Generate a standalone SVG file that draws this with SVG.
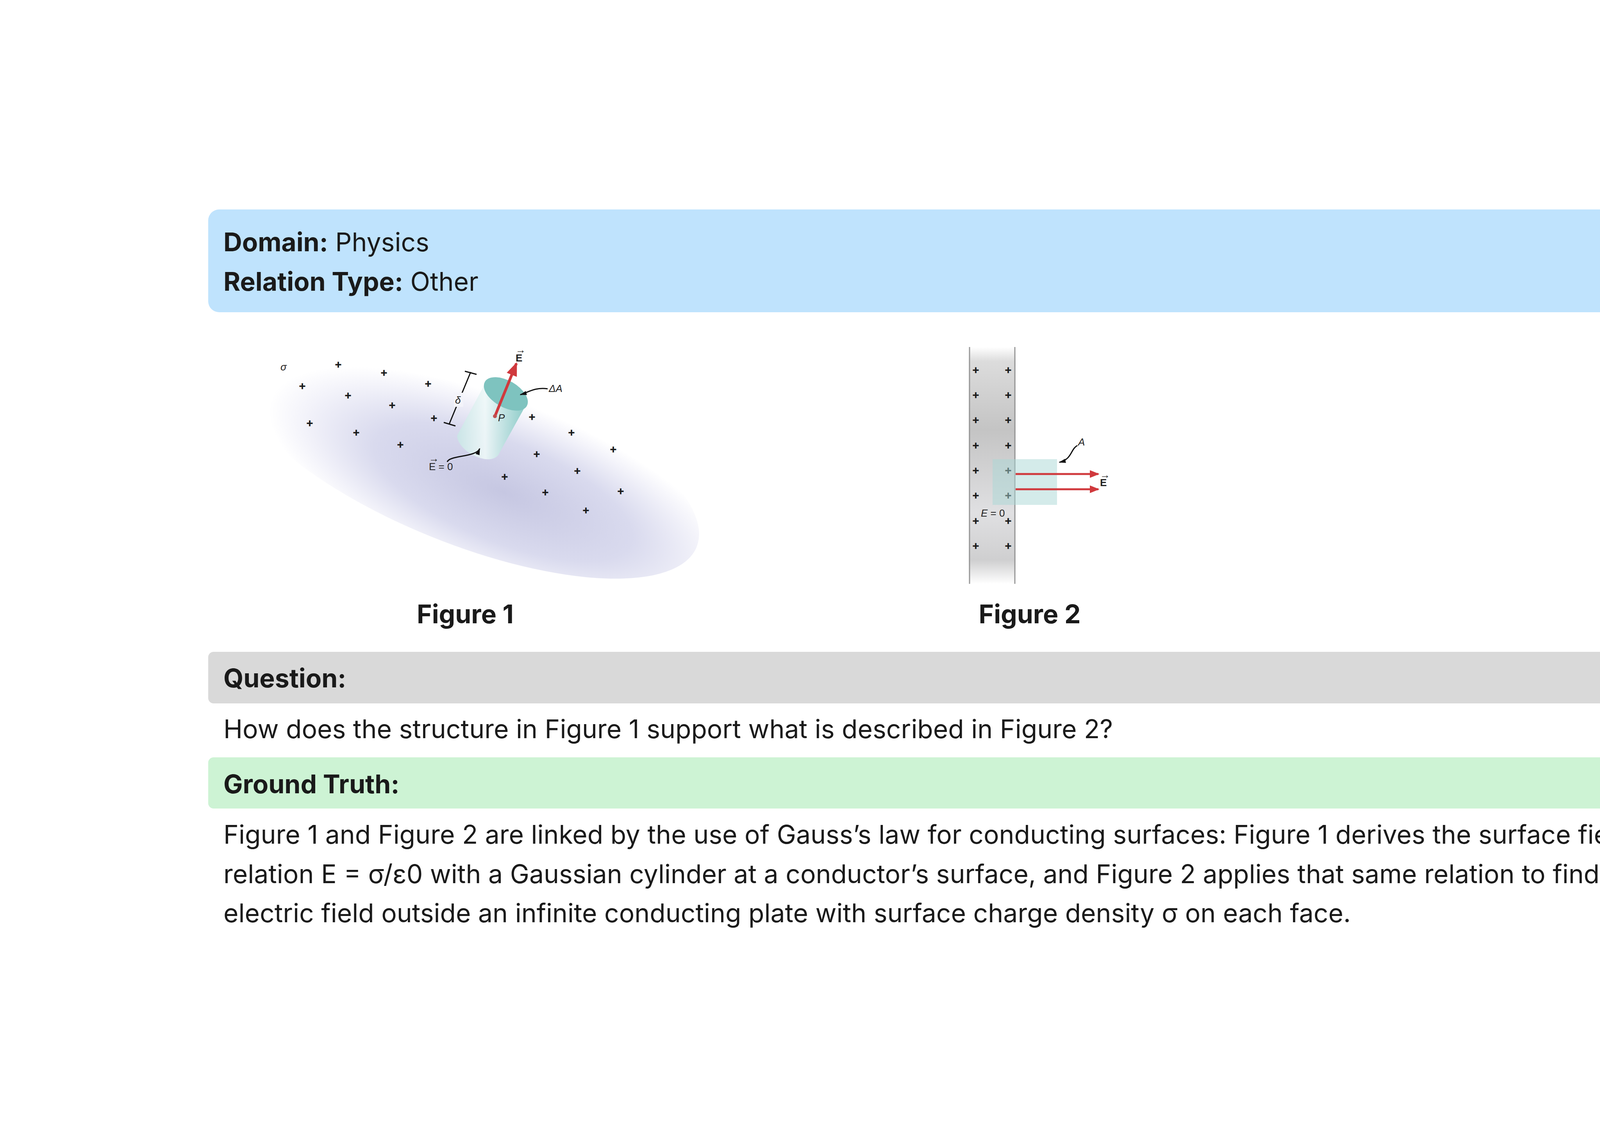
<svg xmlns="http://www.w3.org/2000/svg" width="4800" height="2907" viewBox="0 0 4800 2907">
<style>
text{font-family:Inter,"Noto Sans","Liberation Sans",sans-serif;fill:#1a1a1a}
.t{font-size:66px}
.b{font-weight:700}
.fl{font-size:66px;font-weight:700;text-anchor:middle}
.p{font-family:"Liberation Sans",sans-serif;font-size:30px;font-weight:700;fill:#111;text-anchor:middle}
.s{font-family:"Liberation Sans",sans-serif;font-size:26px;fill:#222}
</style>
<defs>
<radialGradient id="g1" cx="0.6" cy="0.62" r="0.5">
<stop offset="0" stop-color="#c6c7e2"/><stop offset="0.55" stop-color="#d9daee"/><stop offset="0.85" stop-color="#f3f3fa"/><stop offset="1" stop-color="#ffffff"/>
</radialGradient>
<linearGradient id="g2" x1="0" y1="0" x2="0" y2="1">
<stop offset="0" stop-color="#fff"/><stop offset="0.06" stop-color="#dcdcdc"/><stop offset="0.35" stop-color="#c4c4c4"/><stop offset="0.7" stop-color="#e0e0e2"/><stop offset="0.9" stop-color="#cfcfd0"/><stop offset="1" stop-color="#fff"/>
</linearGradient>
<linearGradient id="g3" x1="0" y1="0" x2="1" y2="0">
<stop offset="0" stop-color="#c9e6e6"/><stop offset="0.4" stop-color="#eef8f8"/><stop offset="1" stop-color="#7cc4c0"/>
</linearGradient>
<marker id="ar" viewBox="0 0 10 10" refX="9" refY="5" markerWidth="5" markerHeight="5" orient="auto"><path d="M0,1 L10,5 L0,9 z" fill="#d0393d"/></marker>
<marker id="bk" viewBox="0 0 10 10" refX="9" refY="5" markerWidth="6" markerHeight="6" orient="auto"><path d="M0,2 L10,5 L0,8 z" fill="#111"/></marker>
</defs>
<rect width="4800" height="2907" fill="#fff"/>
<g id="header">
<rect x="533" y="536" width="3734" height="263" rx="28" fill="#bfe3fd"/>
<text class="t" x="572" y="643"><tspan class="b">Domain:</tspan> Physics</text>
<text class="t" x="572" y="744"><tspan class="b">Relation Type:</tspan> Other</text>
</g>
<g id="figure1">
<ellipse cx="1190" cy="1160" rx="640" ry="230" transform="rotate(22 1190 1160)" fill="url(#g1)"/>
<g class="p">
<text x="866" y="942">+</text><text x="983" y="963">+</text><text x="774" y="997">+</text><text x="891" y="1021">+</text><text x="1096" y="991">+</text><text x="1004" y="1046">+</text><text x="1111" y="1079">+</text><text x="793" y="1092">+</text><text x="912" y="1116">+</text><text x="1025" y="1147">+</text><text x="1362" y="1076">+</text><text x="1463" y="1116">+</text><text x="1570" y="1159">+</text><text x="1374" y="1171">+</text><text x="1478" y="1214">+</text><text x="1292" y="1229">+</text><text x="1589" y="1266">+</text><text x="1396" y="1269">+</text><text x="1500" y="1315">+</text>
</g>
<text class="s" x="718" y="948" font-style="italic">σ</text>
<path d="M1240,985 L1170,1115 A60,35 30 0 0 1278,1160 L1350,1030 Z" fill="url(#g3)" opacity="0.9"/>
<ellipse cx="1295" cy="1008" rx="62" ry="34" transform="rotate(30 1295 1008)" fill="#7ec3bf"/>
<line x1="1267" y1="1065" x2="1322" y2="930" stroke="#d0393d" stroke-width="7" marker-end="url(#ar)"/>
<circle cx="1267" cy="1065" r="5" fill="#c05050"/>
<text class="s" x="1275" y="1078" font-style="italic">P</text>
<text class="s" x="1320" y="925" font-weight="700">E</text>
<text class="s" x="1320" y="904" font-size="16">→</text>
<text class="s" x="1405" y="1003" font-style="italic">ΔA</text>
<path d="M1402,995 C1370,990 1350,1005 1332,1010" fill="none" stroke="#111" stroke-width="3" marker-end="url(#bk)"/>
<line x1="1205" y1="952" x2="1150" y2="1085" stroke="#111" stroke-width="3"/>
<line x1="1190" y1="950" x2="1220" y2="958" stroke="#111" stroke-width="3"/>
<line x1="1136" y1="1081" x2="1166" y2="1090" stroke="#111" stroke-width="3"/>
<rect x="1162" y="1005" width="24" height="36" fill="#f4f4fa"/>
<text class="s" x="1165" y="1033" font-style="italic">δ</text>
<text class="s" x="1098" y="1203">E = 0</text>
<text class="s" x="1098" y="1182" font-size="16">→</text>
<path d="M1145,1182 C1150,1165 1220,1170 1228,1148" fill="none" stroke="#111" stroke-width="3" marker-end="url(#bk)"/>
</g>
<g id="figure2">
<rect x="2480" y="888" width="120" height="606" fill="url(#g2)"/>
<line x1="2482" y1="888" x2="2482" y2="1494" stroke="#999" stroke-width="3"/>
<line x1="2598" y1="888" x2="2598" y2="1494" stroke="#999" stroke-width="3"/>
<g class="p" font-size="24">
<text x="2498" y="956">+</text><text x="2581" y="956">+</text>
<text x="2498" y="1020">+</text><text x="2581" y="1020">+</text>
<text x="2498" y="1084">+</text><text x="2581" y="1084">+</text>
<text x="2498" y="1149">+</text><text x="2581" y="1149">+</text>
<text x="2498" y="1213">+</text><text x="2581" y="1213">+</text>
<text x="2498" y="1277">+</text><text x="2581" y="1277">+</text>
<text x="2498" y="1342">+</text><text x="2581" y="1342">+</text>
<text x="2498" y="1406">+</text><text x="2581" y="1406">+</text>
</g>
<rect x="2541" y="1175" width="165" height="117" fill="#a9d8d6" opacity="0.5"/>
<line x1="2600" y1="1213" x2="2812" y2="1213" stroke="#d0393d" stroke-width="5" marker-end="url(#ar)"/>
<line x1="2600" y1="1252" x2="2812" y2="1252" stroke="#d0393d" stroke-width="5" marker-end="url(#ar)"/>
<text class="s" x="2816" y="1244" font-weight="700" font-size="24">E</text>
<text class="s" x="2816" y="1224" font-size="14">→</text>
<text class="s" x="2760" y="1140" font-style="italic" font-size="22">A</text>
<path d="M2758,1140 C2740,1150 2745,1175 2712,1183" fill="none" stroke="#111" stroke-width="3" marker-end="url(#bk)"/>
<text class="s" x="2511" y="1322" font-size="22"><tspan font-style="italic">E</tspan> = 0</text>
</g>
<g id="labels">
<text class="fl" x="1191" y="1595">Figure 1</text>
<text class="fl" x="2636" y="1595">Figure 2</text>
</g>
<g id="question">
<rect x="533" y="1668" width="3734" height="132" rx="14" fill="#d9d9d9"/>
<text class="t b" x="572" y="1759">Question:</text>
<text class="t" x="572" y="1889">How does the structure in Figure 1 support what is described in Figure 2?</text>
</g>
<g id="answer">
<rect x="533" y="1938" width="3734" height="131" rx="14" fill="#cdf3d4"/>
<text class="t b" x="572" y="2030">Ground Truth:</text>
<text class="t" x="572" y="2159">Figure 1 and Figure 2 are linked by the use of Gauss’s law for conducting surfaces: Figure 1 derives the surface field</text>
<text class="t" x="572" y="2260">relation E = σ/ε0 with a Gaussian cylinder at a conductor’s surface, and Figure 2 applies that same relation to find the</text>
<text class="t" x="572" y="2360">electric field outside an infinite conducting plate with surface charge density σ on each face.</text>
</g>
</svg>
